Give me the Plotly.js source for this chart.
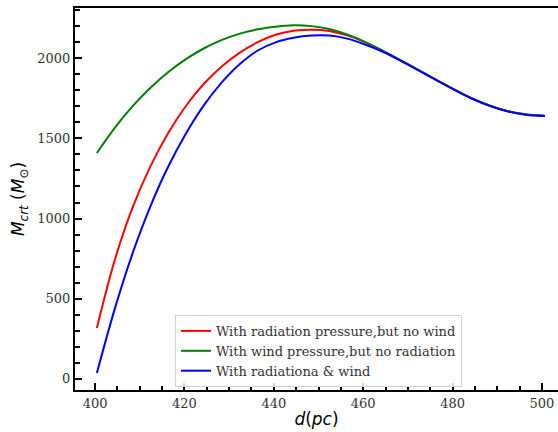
<!DOCTYPE html>
<html>
<head>
<meta charset="utf-8">
<script src="https://cdn.plot.ly/plotly-3.0.1.min.js"></script>
<style>html,body{margin:0;padding:0;background:#fff;}#chart{width:558px;height:432px;}</style>
</head>
<body>
<div id="chart"></div>
<script>
const names = [
  "With radiation pressure,but no wind",
  "With wind pressure,but no radiation",
  "With radiationa & wind"
];
const colors = ["red", "green", "blue"];

// distance d (pc)
const dPc = [400.4, 404.4, 408.4, 412.4, 416.4, 420.4, 424.4, 428.4, 432.4, 436.4, 440.4, 444.4, 448.4,
             452.4, 456.4, 460.4, 464.4, 468.4, 472.4, 476.4, 480.4, 484.4, 488.4, 492.4, 496.4, 500.7];
// M_crt (M_sun)
const mRad  = [318, 742, 1070, 1327, 1535, 1705, 1842, 1950, 2035, 2100, 2146, 2171, 2178,
               2170, 2142, 2100, 2045, 1986, 1925, 1864, 1804, 1748, 1703, 1669, 1649, 1640];
const mWind = [1409, 1566, 1701, 1816, 1914, 1996, 2062, 2114, 2153, 2180, 2196, 2205, 2200,
               2182, 2148, 2102, 2046, 1987, 1926, 1865, 1805, 1749, 1704, 1670, 1650, 1641];
const mBoth = [37, 437, 784, 1078, 1326, 1534, 1709, 1851, 1964, 2048, 2099, 2127, 2141,
               2141, 2122, 2085, 2040, 1984, 1924, 1863, 1803, 1747, 1702, 1668, 1648, 1639];

const ys = [mRad, mWind, mBoth];

const traces = ys.map((y, i) => ({
  x: dPc, y: y, type: "scatter", mode: "lines", name: names[i],
  line: {color: colors[i], width: 2, shape: "spline", smoothing: 1}
}));

const tickFont = {family: "DejaVu Serif", size: 13, color: "#333"};
const layout = {
  width: 558, height: 432,
  margin: {l: 75, r: 0, t: 8, b: 42},
  paper_bgcolor: "#fff", plot_bgcolor: "#fff",
  showlegend: true,
  legend: {
    x: 0.207, y: 0.008, xanchor: "left", yanchor: "bottom",
    bgcolor: "rgba(255,255,255,0.85)", bordercolor: "#d0d0d0", borderwidth: 1,
    font: {family: "DejaVu Serif", size: 13, color: "#333"},
    tracegroupgap: 0
  },
  xaxis: {
    range: [395.5, 503.6], showgrid: false, zeroline: false,
    showline: true, linecolor: "#000", linewidth: 2, mirror: true,
    ticks: "inside", ticklen: 7, tickwidth: 2, tickcolor: "#000",
    tick0: 400, dtick: 20, tickfont: tickFont,
    minor: {ticks: "inside", ticklen: 4, tickwidth: 2, tickcolor: "#000", dtick: 5, tick0: 400, showgrid: false},
    title: {text: "<i>d</i>(<i>pc</i>)", font: {family: "DejaVu Sans", size: 17, color: "#000"}, standoff: 4}
  },
  yaxis: {
    range: [-69, 2313], showgrid: false, zeroline: false,
    showline: true, linecolor: "#000", linewidth: 2, mirror: false,
    ticks: "inside", ticklen: 7, tickwidth: 2, tickcolor: "#000",
    tick0: 0, dtick: 500, tickfont: tickFont,
    minor: {ticks: "inside", ticklen: 5, tickwidth: 2, tickcolor: "#000", dtick: 100, tick0: 0, showgrid: false},
    title: {text: "<i>M</i><sub><i>crt</i></sub> (<i>M</i><sub>⊙</sub>)", font: {family: "DejaVu Sans", size: 17, color: "#000"}, standoff: 8}
  }
};

Plotly.newPlot("chart", traces, layout, {staticPlot: true, displayModeBar: false});
</script>
</body>
</html>
